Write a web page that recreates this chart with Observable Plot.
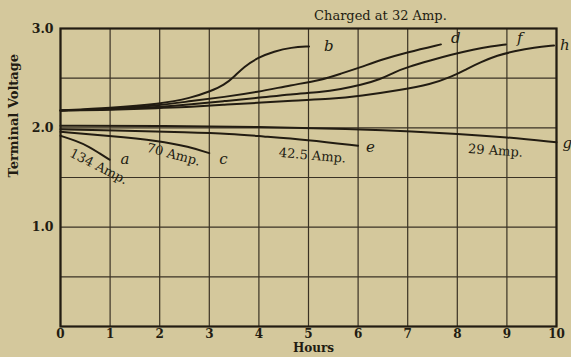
<!DOCTYPE html>
<html>
<head>
<meta charset="utf-8">
<script src="https://cdn.jsdelivr.net/npm/d3@7"></script>
<script src="https://cdn.jsdelivr.net/npm/@observablehq/plot@0.6"></script>
<style>
  html, body { margin: 0; padding: 0; background: #d4c89c; }
  svg { display: block; }
</style>
</head>
<body>
<div id="chart"></div>
<script>
// ---- data (hours, terminal voltage) ----
const hourTicks = [0,1,2,3,4,5,6,7,8,9,10];
const voltTicks = [1,2,3];
const gridVolts = [0,0.5,1,1.5,2,2.5,3];

// charge curves (32 Amp.)
const curveB = [[0,2.175],[1,2.20],[2,2.24],[2.63,2.30],[3.03,2.37],[3.30,2.43],[3.50,2.515],[3.70,2.615],[3.97,2.705],[4.31,2.77],[4.65,2.81],[5.01,2.82]];
const curveD = [[0,2.175],[1,2.19],[2,2.225],[2.63,2.27],[3.30,2.31],[3.97,2.36],[4.65,2.43],[5.25,2.48],[5.65,2.545],[6.05,2.61],[6.46,2.685],[6.99,2.76],[7.67,2.84]];
const curveF = [[0,2.175],[1,2.185],[2,2.21],[2.63,2.235],[3.30,2.27],[3.97,2.30],[4.65,2.34],[5.25,2.36],[5.65,2.39],[6.05,2.43],[6.46,2.49],[6.73,2.56],[6.99,2.61],[7.47,2.68],[7.87,2.735],[8.34,2.79],[8.68,2.82],[8.98,2.84]];
const curveH = [[0,2.175],[1,2.18],[2,2.20],[2.63,2.21],[3.30,2.235],[3.97,2.25],[4.65,2.275],[5.45,2.29],[6.05,2.32],[6.86,2.38],[7.47,2.44],[7.87,2.51],[8.20,2.595],[8.47,2.66],[8.81,2.73],[9.14,2.77],[9.55,2.81],[9.95,2.83]];
// discharge curves
const curveA = [[0,1.92],[0.31,1.87],[0.58,1.81],[0.78,1.745],[0.99,1.68]];
const curveC = [[0,1.96],[0.98,1.92],[1.99,1.87],[2.59,1.81],[3.0,1.745]];
const curveE = [[0,1.985],[1,1.975],[2.63,1.955],[3.43,1.94],[4.04,1.915],[4.97,1.88],[6.0,1.82]];
const curveG = [[0,2.02],[2,2.02],[4,2.01],[6,1.985],[6.5,1.975],[7,1.965],[8,1.94],[9,1.905],[10,1.855]];

const curveNames = ["b","d","f","h","a","c","e","g"];
const curveList = [curveB, curveD, curveF, curveH, curveA, curveC, curveE, curveG];

// current labels: [text, hour, volt, angle]
const ampLabels = [
  ["134 Amp.", 0.77, 1.61, 27],
  ["70 Amp.", 2.28, 1.73, 15],
  ["42.5 Amp.", 5.08, 1.72, 5],
  ["29 Amp.", 8.77, 1.77, 4]
];
const titleText = "Charged at 32 Amp.";
const xLabel = "Hours";
const yLabel = "Terminal Voltage";

// ---- build ----
const ink = "#221c12";
const serif = "'DejaVu Serif', 'Liberation Serif', serif";
const rows = curveList.flatMap((c, i) => c.map(([h, v]) => ({name: curveNames[i], h, v})));
const ends = curveList.map((c, i) => ({name: curveNames[i], h: c[c.length-1][0], v: c[c.length-1][1]}));
const labelOffsets = {b:[15,0],d:[10,-6],f:[11,-6],h:[6,0],a:[11,0],c:[10,6],e:[8,1],g:[6,1]};

const chart = Plot.plot({
  width: 571,
  height: 357,
  marginLeft: 60,
  marginRight: 15,
  marginTop: 28,
  marginBottom: 31,
  style: {background: "#d4c89c", fontFamily: serif, color: ink, overflow: "visible"},
  x: {domain: [0, 10]},
  y: {domain: [0, 3]},
  marks: [
    Plot.ruleX(hourTicks, {stroke: "#3a3224", strokeWidth: 1.2}),
    Plot.ruleY(gridVolts, {stroke: "#3a3224", strokeWidth: 1.2}),
    Plot.frame({stroke: ink, strokeWidth: 2.2}),
    Plot.axisX(hourTicks, {tickSize: 0, tickPadding: 3, fontSize: 12, fontWeight: "bold", label: null, tickFormat: d => String(d)}),
    Plot.axisY(voltTicks, {tickSize: 0, tickPadding: 7, fontSize: 12.5, fontWeight: "bold", label: null, tickFormat: d => d.toFixed(1)}),
    Plot.line(rows, {x: "h", y: "v", z: "name", stroke: ink, strokeWidth: 2, curve: "basis"}),
    ...ends.map(e => Plot.text([e], {x: "h", y: "v", text: "name", dx: labelOffsets[e.name][0], dy: labelOffsets[e.name][1], textAnchor: "start", fontStyle: "italic", fontSize: 15, fill: ink, fontFamily: serif})),
    ...ampLabels.map(([t, h, v, a]) => Plot.text([t], {x: () => h, y: () => v, text: d => d, rotate: a, fontSize: 13, fill: ink})),
    Plot.text([titleText], {x: () => 6.45, y: () => 3, text: d => d, dy: -13, fontSize: 13, fill: ink}),
    Plot.text([xLabel], {frameAnchor: "bottom", text: d => d, dx: 5, dy: 25.5, fontSize: 12, fontWeight: "bold", fill: ink}),
    Plot.text([yLabel], {frameAnchor: "left", text: d => d, dx: -47, rotate: -90, fontSize: 13, fontWeight: "bold", fill: ink})
  ]
});
document.getElementById("chart").appendChild(chart);
</script>
</body>
</html>
